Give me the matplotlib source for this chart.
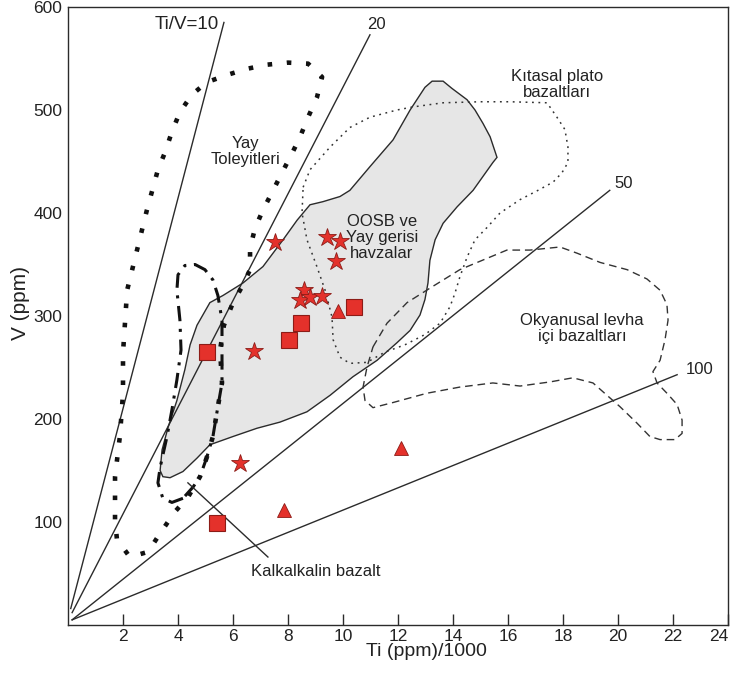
import matplotlib
matplotlib.use("Agg")
import matplotlib.pyplot as plt
import numpy as np

plt.rcParams['font.family'] = ['Liberation Sans', 'DejaVu Sans']

# ---- data (Ti ppm/1000, V ppm) ----
# reference Ti/V lines: start and end points
ratio_labels = ["Ti/V=10", "20", "50", "100"]
ratio_x0 = [0.10, 0.15, 0.15, 0.15]
ratio_v0 = [16, 12, 5, 5]
ratio_x1 = [5.67, 10.98, 19.7, 22.15]
ratio_v1 = [585, 573, 422, 243]
ratio_label_x = [4.31, 11.2, 20.22, 22.95]
ratio_label_v = [583, 583, 429, 248]

# OOSB ve Yay gerisi havzalar (grey field)
oosb_x = [3.35, 3.42, 3.64, 3.96, 4.25, 4.44, 4.69, 5.16, 5.64, 6.36, 7.09, 7.82, 8.33, 8.80,
          9.27, 9.89, 10.25, 10.98, 11.82, 12.44, 12.98, 13.24, 13.64, 13.96, 14.51, 14.80,
          15.09, 15.35, 15.60, 15.45, 14.73, 14.15, 13.64, 13.35, 13.16, 13.09, 12.98, 12.80,
          12.44, 11.96, 11.24, 10.36, 9.53, 8.69, 7.71, 6.87, 6.00, 5.16, 4.69, 4.18, 3.71, 3.45]
oosb_v = [150, 170, 192, 218, 248, 272, 291, 313, 320, 332, 348, 374, 393, 408,
          411, 416, 422, 445, 471, 500, 522, 528, 528, 521, 510, 500,
          487, 474, 454, 449, 422, 406, 390, 374, 354, 332, 316, 301,
          286, 274, 257, 241, 223, 207, 197, 191, 183, 175, 162, 149, 143, 144]

# Yay Toleyitleri (square dotted)
yay_x = [5.05, 4.80, 4.36, 3.89, 3.35, 2.91, 2.25, 1.78, 1.71, 1.71, 1.89, 2.00, 2.00, 2.15,
         2.51, 2.87, 3.27, 3.53, 3.78, 4.07, 4.51, 5.05, 5.78, 6.51, 7.24, 8.00, 8.73, 9.24,
         9.05, 8.73, 8.44, 8.15, 7.78, 7.42, 7.09, 6.80, 6.62, 6.62, 6.36, 6.00, 5.67, 5.53,
         5.60, 5.45, 5.27, 5.05]
yay_v = [163, 144, 124, 110, 89, 71, 66, 83, 102, 144, 184, 225, 264, 325,
         364, 403, 442, 459, 479, 498, 515, 527, 534, 540, 544, 546, 545, 532,
         512, 493, 474, 458, 439, 420, 403, 385, 366, 345, 330, 313, 291, 267,
         235, 212, 183, 163]

# Kalkalkalin bazalt (dash-dot)
kalk_x = [4.18, 3.78, 3.45, 3.27, 3.35, 3.60, 3.78, 3.96, 4.11, 4.07, 3.96, 4.00, 4.25, 4.62,
          4.98, 5.27, 5.45, 5.60, 5.60, 5.60, 5.45, 5.27, 5.05, 4.80, 4.55, 4.18]
kalk_v = [123, 119, 123, 138, 153, 183, 209, 238, 267, 296, 325, 340, 349, 350,
          345, 335, 320, 296, 272, 235, 212, 183, 163, 144, 134, 123]
kalk_leader_x = [4.36, 7.27]
kalk_leader_v = [138, 66]

# Kitasal plato bazaltlari (fine dotted)
kita_x = [8.55, 8.80, 9.53, 10.25, 10.98, 11.96, 12.55, 13.64, 14.98, 16.07, 17.42, 17.78,
          18.07, 18.18, 18.18, 17.96, 17.64, 17.09, 16.44, 15.71, 15.24, 14.80, 14.51, 14.25,
          14.07, 13.89, 13.53, 12.98, 12.25, 11.53, 10.87, 10.25, 9.89, 9.64, 9.60, 9.35,
          9.05, 8.69, 8.51, 8.55]
kita_v = [425, 442, 464, 483, 493, 500, 503, 507, 508, 508, 507, 493,
          481, 464, 449, 439, 430, 422, 413, 400, 386, 374, 357, 338,
          322, 309, 293, 282, 272, 265, 255, 254, 260, 277, 299, 325,
          348, 374, 400, 425]

# Okyanusal levha ici bazaltlari (dashed)
okya_x = [11.09, 11.60, 12.33, 13.16, 14.25, 15.24, 15.96, 16.80, 17.89, 18.51, 19.35, 20.33,
          21.05, 21.53, 21.78, 21.82, 21.71, 21.53, 21.27, 21.42, 21.78, 22.15, 22.33, 22.33,
          22.07, 21.53, 21.16, 20.69, 20.07, 19.60, 19.09, 18.36, 17.53, 16.44, 15.45, 14.25,
          13.05, 11.82, 11.09, 10.80, 10.73, 10.87, 11.09]
okya_v = [270, 293, 313, 327, 345, 356, 364, 364, 367, 361, 352, 345,
          336, 325, 311, 296, 277, 257, 246, 235, 225, 214, 199, 186,
          180, 180, 183, 196, 212, 223, 235, 240, 236, 232, 235, 231,
          225, 216, 211, 218, 231, 250, 270]

# samples
square_x = [5.05, 5.42, 8.04, 8.47, 10.40]
square_v = [265, 99, 277, 293, 309]
star_x = [7.53, 9.42, 9.89, 9.75, 8.58, 8.44, 8.80, 9.24, 6.76, 6.25]
star_v = [372, 377, 373, 353, 325, 316, 318, 319, 266, 157]
tri_x = [9.82, 12.11, 7.85]
tri_v = [305, 172, 112]

field_labels = ["Yay\nToleyitleri", "OOSB ve\nYay gerisi\nhavzalar", "Kıtasal plato\nbazaltları",
                "Okyanusal levha\niçi bazaltları", "Kalkalkalin bazalt"]
field_label_x = [6.47, 11.42, 17.78, 18.69, 9.02]
field_label_v = [460, 376, 525, 288, 51.5]

x_ticks = [2, 4, 6, 8, 10, 12, 14, 16, 18, 20, 22, 24]
y_ticks = [100, 200, 300, 400, 500, 600]

# ---- figure ----
fig = plt.figure(figsize=(7.31, 6.73), dpi=100)
ax = fig.add_axes([68 / 731, 48 / 673, 660 / 731, 618 / 673])
ax.set_xlim(0, 24)
ax.set_ylim(0, 600)

lc = '#2b2b2b'

ax.fill(oosb_x, oosb_v, facecolor='#e6e6e6', edgecolor=lc, linewidth=1.0, zorder=1)

ratio_fs = [13.5, 12, 12, 12]
for i in range(len(ratio_labels)):
    ax.plot([ratio_x0[i], ratio_x1[i]], [ratio_v0[i], ratio_v1[i]], color=lc, lw=1.0, zorder=2)
    ax.text(ratio_label_x[i], ratio_label_v[i], ratio_labels[i], fontsize=ratio_fs[i],
            color='#222', ha='center', va='center', zorder=5)

ax.plot(yay_x, yay_v, color='#111', lw=3.3, linestyle=(0, (1, 3.2)), zorder=3)
ax.plot(kalk_x, kalk_v, color='#111', lw=2.2, linestyle=(0, (5, 2.5, 1, 2.5)), zorder=3)
ax.plot(kita_x, kita_v, color='#333', lw=1.1, linestyle=(0, (1.2, 3)), zorder=3)
ax.plot(okya_x, okya_v, color='#333', lw=1.0, linestyle=(0, (5.5, 3.5)), zorder=3)
ax.plot(kalk_leader_x, kalk_leader_v, color=lc, lw=1.0, zorder=3)

red = '#e4312b'
edge = '#8c1c17'
ax.plot(square_x, square_v, 's', ms=11.5, mfc=red, mec=edge, mew=0.8, zorder=6)
ax.plot(star_x, star_v, '*', ms=13.5, mfc=red, mec=edge, mew=0.6, zorder=6)
ax.plot(tri_x, tri_v, '^', ms=10, mfc=red, mec=edge, mew=0.6, zorder=6)

for t, x, v in zip(field_labels, field_label_x, field_label_v):
    ax.text(x, v, t, fontsize=12, color='#222', ha='center', va='center',
            linespacing=1.1, zorder=5)

ax.set_xticks(x_ticks)
ax.set_yticks(y_ticks)
ax.set_xticklabels([str(t) for t in x_ticks])
ax.set_yticklabels([str(t) for t in y_ticks])
ax.tick_params(axis='x', direction='in', length=8, width=1.0, color=lc, labelsize=12.5,
               pad=3, labelcolor='#222')
ax.tick_params(axis='y', length=0, labelsize=12.5, pad=4, labelcolor='#222')
ax.get_xticklabels()[-1].set_horizontalalignment('right')
ax.set_xlabel("Ti (ppm)/1000", fontsize=14, color='#222')
ax.xaxis.set_label_coords(13.05 / 24, -0.029)
ax.set_ylabel("V (ppm)", fontsize=15, color='#222')
ax.yaxis.set_label_coords(-0.058, 0.521)
for s in ax.spines.values():
    s.set_color(lc)
    s.set_linewidth(1.0)

fig.savefig("out.png", dpi=100)
